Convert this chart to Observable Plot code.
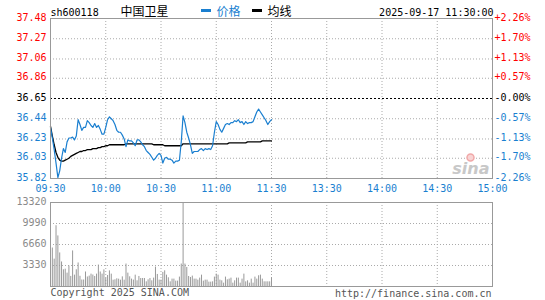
<!DOCTYPE html>
<html><head><meta charset="utf-8">
<script src="https://cdn.jsdelivr.net/npm/d3@7"></script>
<script src="https://cdn.jsdelivr.net/npm/@observablehq/plot@0.6"></script>
<style>
body{margin:0;background:#fff;}
#wrap{position:relative;width:545px;height:300px;overflow:hidden;background:#fff;}
#wrap svg{display:block;}
.sw{position:absolute;height:3px;width:10px;}
</style></head><body><div id="wrap"></div>
<script>
const stockCode = "sh600118";
const stockName = "中国卫星";
const legendPrice = "价格";
const legendAvg = "均线";
const stamp = "2025-09-17 11:30:00";
const copyright = "Copyright 2025 SINA.COM";
const site = "http://finance.sina.com.cn";
const prevClose = 36.65;
const priceTicks = [37.48, 37.27, 37.06, 36.86, 36.65, 36.44, 36.23, 36.03, 35.82];
const pctLabels = ["+2.26%", "+1.70%", "+1.13%", "+0.57%", "-0.00%", "-0.57%", "-1.13%", "-1.70%", "-2.26%"];
const volTicks = [13320, 9990, 6660, 3330];
const timeLabels = ["09:30", "10:00", "10:30", "11:00", "11:30", "13:30", "14:00", "14:30", "15:00"];
const sessionMinutes = 240;

const price = [
36.35,36.24,36.12,35.98,35.83,35.90,36.03,36.13,36.09,36.20,
36.24,36.24,36.25,36.22,36.26,36.43,36.38,36.32,36.35,36.35,
36.42,36.40,36.37,36.35,36.39,36.35,36.37,36.33,36.28,36.28,
36.35,36.43,36.46,36.44,36.42,36.38,36.32,36.30,36.30,36.27,
36.23,36.15,36.22,36.21,36.21,36.19,36.16,36.22,36.22,36.20,
36.17,36.15,36.11,36.09,36.07,36.04,36.01,36.03,36.06,36.08,
36.06,35.98,36.03,36.04,36.02,36.02,36.01,35.98,36.00,36.00,
36.01,36.20,36.47,36.40,36.30,36.24,36.17,36.08,36.10,36.10,
36.10,36.12,36.13,36.11,36.13,36.12,36.13,36.12,36.16,36.30,
36.41,36.38,36.33,36.30,36.34,36.38,36.39,36.38,36.40,36.40,
36.42,36.41,36.43,36.40,36.41,36.38,36.41,36.39,36.40,36.40,
36.41,36.46,36.51,36.54,36.51,36.48,36.45,36.42,36.38,36.41,
36.43];

const avg = [
36.36,36.26,36.17,36.09,36.04,36.01,36.00,36.00,36.01,36.02,
36.03,36.05,36.06,36.07,36.08,36.09,36.10,36.10,36.11,36.11,
36.12,36.12,36.12,36.13,36.13,36.13,36.14,36.14,36.15,36.15,
36.16,36.16,36.17,36.17,36.17,36.17,36.17,36.17,36.17,36.17,
36.17,36.18,36.18,36.18,36.18,36.18,36.18,36.18,36.18,36.18,
36.18,36.18,36.18,36.18,36.18,36.18,36.17,36.17,36.17,36.17,
36.17,36.17,36.16,36.16,36.16,36.16,36.16,36.16,36.16,36.16,
36.16,36.16,36.18,36.18,36.18,36.18,36.18,36.18,36.18,36.18,
36.18,36.18,36.18,36.18,36.18,36.18,36.18,36.18,36.18,36.18,
36.18,36.18,36.18,36.18,36.18,36.18,36.18,36.19,36.19,36.19,
36.19,36.19,36.19,36.19,36.19,36.19,36.19,36.20,36.20,36.20,
36.20,36.20,36.20,36.20,36.20,36.21,36.21,36.21,36.21,36.21,
36.21];

const volume = [
1330,6100,4340,9640,8020,5320,3890,2650,2750,2120,
3250,1600,5640,1800,2650,3730,1620,1030,1030,2300,
1510,1650,1960,1820,1590,1960,3400,2300,1960,2640,
1320,1740,2480,1960,1000,1060,1220,1160,1000,1530,
1000,3560,2120,1540,1170,1010,1800,900,1590,1270,
1270,1270,740,1060,1270,900,1330,3080,1910,1010,
1010,2230,2490,1800,1380,740,1170,1170,850,850,
1490,3560,13320,3560,3020,1590,1430,1650,1170,1170,
1010,1330,1800,850,1010,1010,690,690,740,1490,
1960,1800,1010,900,530,1490,1060,1170,1330,530,
900,1330,1330,530,1170,1960,740,900,530,1170,
530,1490,1170,1700,1800,1170,740,740,740,740,
1380];

const W = 545, ML = 50, MR = 53;
const BLUE = "#1a7fd0", RED = "#ff0000", GRID = "#aaaaaa", FRAME = "#999999", VOL = "#999999";
const MONO = "DejaVu Sans Mono";
const CJK = "Noto Sans CJK SC";
const timeTicks = timeLabels.map((_, k) => k * sessionMinutes / (timeLabels.length - 1));
const innerTimeTicks = timeTicks.slice(1, -1);
const labelOf = (arr, ticks) => d => arr[ticks.indexOf(d)];
const upT = priceTicks.filter(t => t > prevClose);
const midT = priceTicks.filter(t => t === prevClose);
const dnT = priceTicks.filter(t => t < prevClose);
const innerPriceGrid = priceTicks.slice(1, -1).filter(t => t !== prevClose);
const style = {fontFamily: MONO, fontSize: "10px", background: "transparent", overflow: "visible"};

const pricePlot = Plot.plot({
  width: W, height: 196, marginLeft: ML, marginRight: MR, marginTop: 18, marginBottom: 18,
  style,
  x: {domain: [0, sessionMinutes], label: null},
  y: {domain: [priceTicks[priceTicks.length - 1], priceTicks[0]], label: null},
  marks: [
    Plot.gridY({ticks: innerPriceGrid, stroke: GRID, strokeOpacity: 1, strokeDasharray: "1,2"}),
    Plot.gridX({ticks: innerTimeTicks, stroke: GRID, strokeOpacity: 1, strokeDasharray: "1,2"}),
    Plot.ruleY([prevClose], {stroke: "#000", strokeDasharray: "2,2"}),
    Plot.text(["sina"], {frameAnchor: "bottom-right", dx: -3, dy: -5, textAnchor: "end", fill: "#c8c8c8", fontSize: 16, fontWeight: "bold", fontStyle: "italic", fontFamily: "DejaVu Sans"}),
    Plot.dot([0], {frameAnchor: "bottom-right", dx: -22, dy: -21, r: 3.5, fill: "#f8d4d4", stroke: "#f0a8a8"}),
    Plot.line(avg, {x: (d, i) => i, y: d => d, stroke: "#000", strokeWidth: 1.3}),
    Plot.line(price, {x: (d, i) => i, y: d => d, stroke: BLUE, strokeWidth: 1.2}),
    Plot.frame({stroke: FRAME}),
    Plot.axisY({ticks: upT, anchor: "left", tickSize: 0, tickPadding: 4, dy: -1, color: RED, tickFormat: d => d.toFixed(2)}),
    Plot.axisY({ticks: midT, anchor: "left", tickSize: 0, tickPadding: 4, dy: -1, color: "#000", tickFormat: d => d.toFixed(2)}),
    Plot.axisY({ticks: dnT, anchor: "left", tickSize: 0, tickPadding: 4, dy: -1, color: BLUE, tickFormat: d => d.toFixed(2)}),
    Plot.axisY({ticks: upT, anchor: "right", tickSize: 0, tickPadding: 2, dy: -1, color: RED, tickFormat: labelOf(pctLabels, priceTicks)}),
    Plot.axisY({ticks: midT, anchor: "right", tickSize: 0, tickPadding: 2, dy: -1, color: "#000", tickFormat: labelOf(pctLabels, priceTicks)}),
    Plot.axisY({ticks: dnT, anchor: "right", tickSize: 0, tickPadding: 2, dy: -1, color: BLUE, tickFormat: labelOf(pctLabels, priceTicks)}),
    Plot.axisX({ticks: timeTicks, anchor: "bottom", tickSize: 0, tickPadding: 6, color: BLUE, tickFormat: labelOf(timeLabels, timeTicks)}),
    Plot.text([stockCode], {frameAnchor: "top-left", dx: 0, dy: -3, lineAnchor: "bottom", textAnchor: "start", fill: "#000", fontSize: 10}),
    Plot.text([stockName], {frameAnchor: "top-left", dx: 70, dy: -2.5, lineAnchor: "bottom", textAnchor: "start", fill: "#000", fontSize: 12, fontFamily: CJK}),
    Plot.text([legendPrice], {frameAnchor: "top-left", dx: 166, dy: -2.5, lineAnchor: "bottom", textAnchor: "start", fill: BLUE, fontSize: 12, fontFamily: CJK}),
    Plot.text([legendAvg], {frameAnchor: "top-left", dx: 217, dy: -2.5, lineAnchor: "bottom", textAnchor: "start", fill: "#000", fontSize: 12, fontFamily: CJK}),
    Plot.text([stamp], {frameAnchor: "top-right", dx: 1, dy: -3, lineAnchor: "bottom", textAnchor: "end", fill: "#000", fontSize: 10})
  ]
});

const volPlot = Plot.plot({
  width: W, height: 104, marginLeft: ML, marginRight: MR, marginTop: 6, marginBottom: 14,
  style,
  x: {domain: [0, sessionMinutes], label: null, axis: null},
  y: {domain: [0, volTicks[0]], label: null},
  marks: [
    Plot.gridY({ticks: volTicks.slice(1), stroke: GRID, strokeOpacity: 1, strokeDasharray: "1,2"}),
    Plot.gridX({ticks: innerTimeTicks, stroke: GRID, strokeOpacity: 1, strokeDasharray: "1,2"}),
    Plot.ruleX(volume, {x: (d, i) => i, y1: 0, y2: d => d, stroke: VOL, strokeWidth: 1}),
    Plot.frame({stroke: FRAME}),
    Plot.axisY({ticks: volTicks, anchor: "left", tickSize: 0, tickPadding: 4, dy: -1, color: "#8a8a8a", tickFormat: d => String(d)}),
    Plot.text([copyright], {frameAnchor: "bottom-left", dx: 0, dy: 9.5, lineAnchor: "bottom", textAnchor: "start", fill: "#555", fontSize: 10}),
    Plot.text([site], {frameAnchor: "bottom-right", dx: -1, dy: 10, lineAnchor: "bottom", textAnchor: "end", fill: "#555", fontSize: 10})
  ]
});

const wrap = document.getElementById("wrap");
wrap.appendChild(pricePlot);
wrap.appendChild(volPlot);
const sw1 = document.createElement("div"); sw1.className = "sw"; sw1.style.left = "201px"; sw1.style.top = "9px"; sw1.style.background = BLUE;
const sw2 = document.createElement("div"); sw2.className = "sw"; sw2.style.left = "252px"; sw2.style.top = "9px"; sw2.style.background = "#000";
wrap.appendChild(sw1); wrap.appendChild(sw2);
</script></body></html>
